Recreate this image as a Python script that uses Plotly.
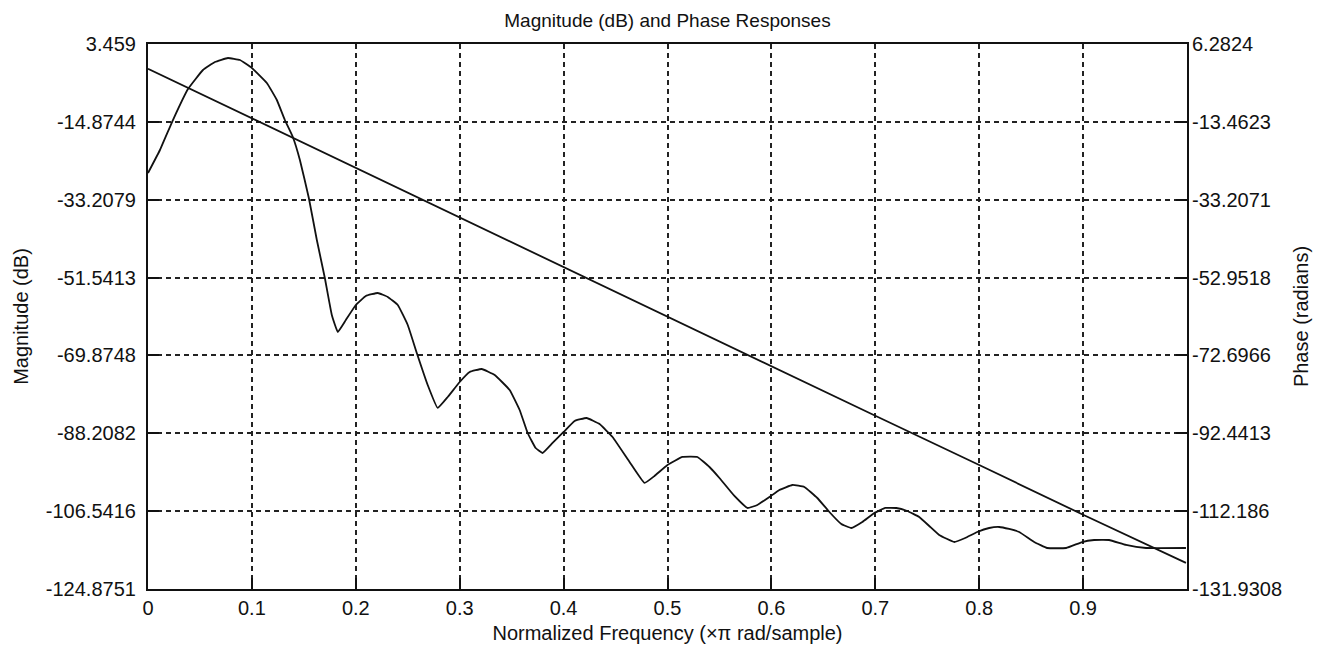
import plotly.graph_objects as go

# Magnitude response
freq_mag = [0.0, 0.0115, 0.0240, 0.0385, 0.0529, 0.0644, 0.0769, 0.0885, 0.1000, 0.1144,
            0.1240, 0.1317, 0.1394, 0.1462, 0.1548, 0.1625, 0.1702, 0.1769, 0.1827, 0.1904,
            0.2000, 0.2096, 0.2212, 0.2308, 0.2404, 0.2500, 0.2587, 0.2692, 0.2788, 0.2885,
            0.3000, 0.3096, 0.3212, 0.3337, 0.3481, 0.3577, 0.3654, 0.3731, 0.3798, 0.3894,
            0.4000, 0.4106, 0.4221, 0.4346, 0.4471, 0.4635, 0.4779, 0.4875, 0.5000, 0.5144,
            0.5288, 0.5404, 0.5500, 0.5644, 0.5769, 0.5865, 0.5981, 0.6077, 0.6202, 0.6317,
            0.6442, 0.6558, 0.6673, 0.6769, 0.6875, 0.6990, 0.7096, 0.7202, 0.7308, 0.7423,
            0.7519, 0.7615, 0.7760, 0.7865, 0.7981, 0.8096, 0.8192, 0.8288, 0.8385, 0.8529,
            0.8654, 0.8837, 0.8990, 0.9106, 0.9250, 0.9413, 0.9606, 0.9990]
mag_db = [-26.92, -21.50, -14.44, -7.14, -2.66, -0.78, 0.16, -0.31, -2.19, -5.72,
          -9.73, -14.44, -18.44, -23.86, -32.80, -42.69, -51.64, -60.35, -64.36, -61.53,
          -58.00, -55.88, -55.17, -56.11, -58.00, -62.71, -69.30, -76.84, -82.25, -79.66,
          -76.13, -73.78, -73.07, -74.48, -78.01, -82.72, -88.14, -91.67, -92.85, -90.49,
          -87.90, -85.31, -84.61, -86.02, -89.08, -94.97, -99.91, -98.26, -95.67, -93.79,
          -93.79, -96.15, -98.74, -102.97, -105.80, -105.09, -103.21, -101.56, -100.38, -100.85,
          -103.45, -106.74, -109.57, -110.51, -109.10, -106.98, -105.80, -105.80, -106.51, -107.92,
          -110.04, -112.16, -113.81, -112.86, -111.45, -110.51, -110.27, -110.74, -111.45, -113.81,
          -115.22, -115.22, -113.81, -113.34, -113.34, -114.51, -115.22, -115.22]

# Phase response
freq_phase = [0.0, 0.1, 0.2, 0.3, 0.4, 0.5, 0.6, 0.7, 0.8, 0.9, 0.999]
phase_rad = [0.0, -12.6, -25.1, -37.7, -50.3, -62.8, -75.4, -88.0, -100.5, -113.1, -125.3]

# Tick labels
x_ticks = [0, 0.1, 0.2, 0.3, 0.4, 0.5, 0.6, 0.7, 0.8, 0.9]
x_ticktext = ["0", "0.1", "0.2", "0.3", "0.4", "0.5", "0.6", "0.7", "0.8", "0.9"]
mag_ticks = [3.459, -14.8744, -33.2079, -51.5413, -69.8748, -88.2082, -106.5416, -124.8751]
mag_ticktext = ["3.459", "-14.8744", "-33.2079", "-51.5413", "-69.8748", "-88.2082", "-106.5416", "-124.8751"]
phase_ticks = [6.2824, -13.4623, -33.2071, -52.9518, -72.6966, -92.4413, -112.186, -131.9308]
phase_ticktext = ["6.2824", "-13.4623", "-33.2071", "-52.9518", "-72.6966", "-92.4413", "-112.186", "-131.9308"]

FONT = "Liberation Sans, Arial, sans-serif"
INK = "#111"

fig = go.Figure()
fig.add_trace(go.Scatter(x=freq_mag, y=mag_db, mode="lines",
                         line=dict(color=INK, width=1.8, shape="spline", smoothing=0.3),
                         yaxis="y", showlegend=False))
fig.add_trace(go.Scatter(x=freq_phase, y=phase_rad, mode="lines",
                         line=dict(color=INK, width=1.8),
                         yaxis="y2", showlegend=False))

grid = dict(showgrid=True, gridcolor="#222", gridwidth=1.6, griddash="5px,4px")

fig.update_layout(
    width=1327, height=653,
    margin=dict(l=148, r=140, t=44, b=64),
    paper_bgcolor="white", plot_bgcolor="white",
    font=dict(family=FONT, size=20, color=INK),
    title=dict(text="Magnitude (dB) and Phase Responses", x=0.503, xanchor="center",
               y=1 - 20 / 653, yanchor="middle", font=dict(size=19)),
    xaxis=dict(range=[0, 1], tickvals=x_ticks, ticktext=x_ticktext, automargin=False,
               ticks="inside", ticklen=11, tickwidth=2, tickcolor=INK,
               showline=True, linecolor=INK, linewidth=2.2, mirror=True,
               zeroline=False, ticklabelstandoff=0,
               title=dict(text="Normalized Frequency (×π rad/sample)", font=dict(size=20), standoff=8),
               **grid),
    yaxis=dict(range=[-124.8751, 3.459], tickvals=mag_ticks, ticktext=mag_ticktext, automargin=False,
               ticks="inside", ticklen=11, tickwidth=2, tickcolor=INK,
               showline=True, linecolor=INK, linewidth=2.2, mirror="ticks",
               zeroline=False, ticklabelstandoff=6,
               title=dict(text="Magnitude (dB)", font=dict(size=20), standoff=12),
               **grid),
    yaxis2=dict(range=[-131.9308, 6.2824], tickvals=phase_ticks, ticktext=phase_ticktext,
                automargin=False,
                overlaying="y", side="right", ticks="", showgrid=False,
                showline=False, zeroline=False, ticklabelstandoff=4,
                title=dict(text="Phase (radians)", font=dict(size=20), standoff=12)),
)

fig.write_html("out.html", config={"displayModeBar": False},
               post_script="document.body.style.margin='0';document.body.style.overflow='hidden';")
